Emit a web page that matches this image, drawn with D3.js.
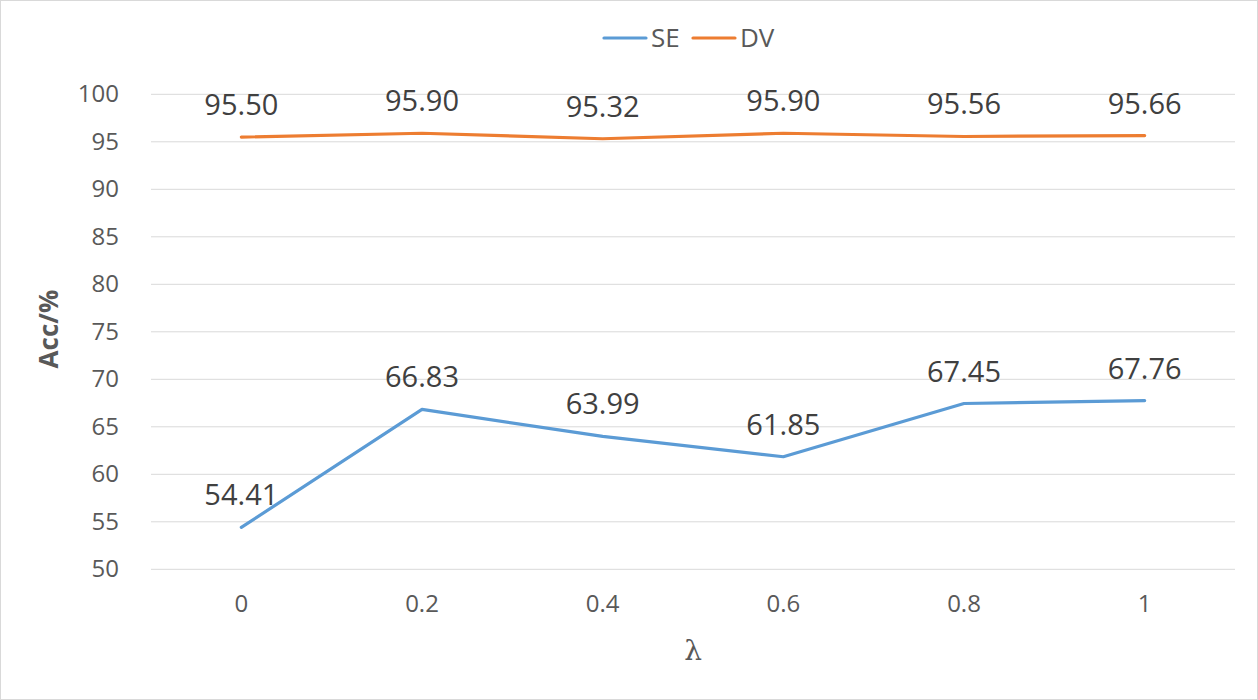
<html>
<head>
<script src="https://d3js.org/d3.v7.min.js"></script>
<style>
  body { margin: 0; background: #fff; }
  svg { display: block; font-family: "Open Sans", "Noto Sans", sans-serif; }
</style>
</head>
<body>
<svg id="chart" width="1258" height="700"></svg>
<script>
// chart data
const lambdas = ["0", "0.2", "0.4", "0.6", "0.8", "1"];
const seValues = [54.41, 66.83, 63.99, 61.85, 67.45, 67.76];
const dvValues = [95.50, 95.90, 95.32, 95.90, 95.56, 95.66];
const yTicks = [50, 55, 60, 65, 70, 75, 80, 85, 90, 95, 100];
const seriesNames = ["SE", "DV"];

const svg = d3.select("#chart");
const W = +svg.attr("width"), H = +svg.attr("height");

// outer border
svg.append("rect")
    .attr("x", 0.5).attr("y", 0.5)
    .attr("width", W - 1).attr("height", H - 1)
    .attr("fill", "#fff").attr("stroke", "#d9d9d9");

const plot = { left: 151, right: 1235, top: 94.3, bottom: 569.3 };

const x = d3.scaleBand().domain(lambdas).range([plot.left, plot.right]);
const y = d3.scaleLinear().domain([50, 100]).range([plot.bottom, plot.top]);
const color = d3.scaleOrdinal().domain(seriesNames).range(["#5b9bd5", "#ed7d31"]);

// gridlines
svg.append("g").selectAll("line").data(yTicks).join("line")
    .attr("x1", plot.left).attr("x2", plot.right)
    .attr("y1", d => y(d)).attr("y2", d => y(d))
    .attr("stroke", "#d9d9d9").attr("stroke-width", 1);

// y axis labels
const yAxis = svg.append("g")
    .attr("transform", `translate(${plot.left - 32},0)`)
    .call(d3.axisLeft(y).tickValues(yTicks).tickSize(0).tickPadding(0));
yAxis.select(".domain").remove();
yAxis.selectAll("text")
    .attr("fill", "#595959")
    .style("font-size", "24px")
    .style("font-family", "'Open Sans', sans-serif");

// x axis labels
const xAxis = svg.append("g")
    .attr("transform", `translate(0,${plot.bottom + 26})`)
    .call(d3.axisBottom(x).tickSize(0).tickPadding(0));
xAxis.select(".domain").remove();
xAxis.selectAll("text")
    .attr("fill", "#595959")
    .style("font-size", "24px")
    .style("font-family", "'Open Sans', sans-serif");

// axis titles
svg.append("text")
    .attr("transform", "translate(58,329) rotate(-90)")
    .attr("text-anchor", "middle")
    .attr("fill", "#595959")
    .style("font-size", "26px")
    .style("font-weight", "bold")
    .text("Acc/%");

svg.append("text")
    .attr("x", (plot.left + plot.right) / 2)
    .attr("y", 660)
    .attr("text-anchor", "middle")
    .attr("fill", "#595959")
    .style("font-size", "28px")
    .style("font-family", "'DejaVu Serif', 'Liberation Serif', serif")
    .text("λ");

// lines
const series = [
    { name: "SE", values: seValues },
    { name: "DV", values: dvValues }
];
const line = d3.line()
    .x((d, i) => x(lambdas[i]) + x.bandwidth() / 2)
    .y(d => y(d));

series.forEach(s => {
    svg.append("path")
        .datum(s.values)
        .attr("fill", "none")
        .attr("stroke", color(s.name))
        .attr("stroke-width", 3.2)
        .attr("stroke-linejoin", "round")
        .attr("stroke-linecap", "round")
        .attr("d", line);

    svg.append("g").selectAll("text").data(s.values).join("text")
        .attr("x", (d, i) => x(lambdas[i]) + x.bandwidth() / 2)
        .attr("y", d => y(d) - 22)
        .attr("text-anchor", "middle")
        .attr("fill", "#404040")
        .style("font-size", "29px")
        .text(d => d.toFixed(2));
});

// legend
const legend = svg.append("g").attr("transform", "translate(604,38)");
const legendX = [0, 89];
seriesNames.forEach((name, i) => {
    const g = legend.append("g").attr("transform", `translate(${legendX[i]},0)`);
    g.append("line")
        .attr("x1", 0).attr("x2", 42)
        .attr("stroke", color(name))
        .attr("stroke-width", 3.2)
        .attr("stroke-linecap", "round");
    g.append("text")
        .attr("x", 47).attr("dy", "0.35em")
        .attr("fill", "#595959")
        .style("font-size", "26px")
        .text(name);
});
</script>
</body>
</html>
